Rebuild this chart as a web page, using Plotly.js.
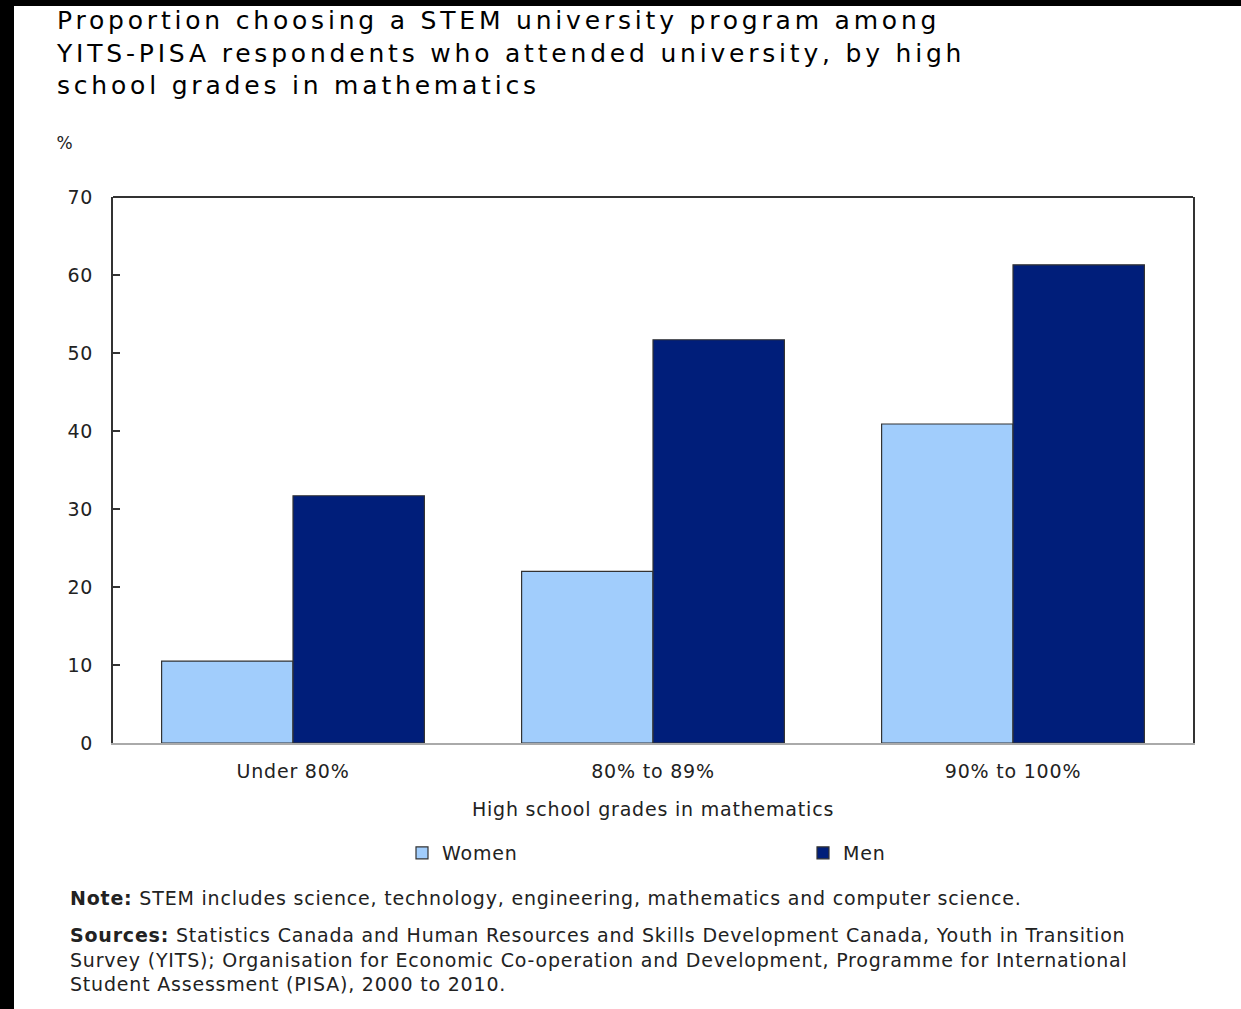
<!DOCTYPE html>
<html>
<head>
<meta charset="utf-8">
<script src="https://cdn.plot.ly/plotly-3.0.1.min.js"></script>
<style>
  html, body { margin: 0; padding: 0; background: #000; width: 1241px; height: 1009px; overflow: hidden; }
  #chart { position: absolute; left: 14px; top: 6px; width: 1227px; height: 1003px; background: #fff; }
  /* wide, airy lettering for all chart text */
  #chart svg text { letter-spacing: 0.8px; }
  #chart svg .gtitle { letter-spacing: 3.8px; }
</style>
</head>
<body>
<div id="chart"></div>
<script>
// High school maths grade bands
const categories = ['Under 80%', '80% to 89%', '90% to 100%'];
// Share choosing a STEM university program (%)
const women = [10.5, 22.0, 40.9];
const men = [31.7, 51.7, 61.3];
const yTicks = [0, 10, 20, 30, 40, 50, 60, 70];

const FONT = 'DejaVu Sans, Verdana, sans-serif';
const TXT = '#222';

const traces = [
  {
    type: 'bar', name: 'Women', x: categories, y: women,
    marker: { color: '#a1cdfc', line: { color: '#333', width: 1.2 } },
    hoverinfo: 'y+name'
  },
  {
    type: 'bar', name: 'Men', x: categories, y: men,
    marker: { color: '#001e7a', line: { color: '#333', width: 1.2 } },
    hoverinfo: 'y+name'
  }
];

const layout = {
  width: 1227, height: 1003,
  margin: { l: 99, r: 48, t: 191, b: 266 },
  paper_bgcolor: '#fff', plot_bgcolor: '#fff',
  font: { family: FONT, size: 19, color: TXT },
  barmode: 'group', bargap: 0.27, bargroupgap: 0,
  showlegend: true,
  title: {
    text: 'Proportion choosing a STEM university program among<br>YITS-PISA respondents who attended university, by high<br>school grades in mathematics',
    font: { family: FONT, size: 25, color: '#000' },
    xref: 'container', yref: 'container',
    x: 43 / 1227, xanchor: 'left',
    y: 1 - 23 / 1003, yanchor: 'top'
  },
  xaxis: {
    showgrid: false, zeroline: false,
    showline: true, linecolor: '#aaa', linewidth: 2,
    ticks: '', ticklabelstandoff: 10,
    tickfont: { family: FONT, size: 19, color: TXT },
    title: { text: 'High school grades in mathematics', font: { family: FONT, size: 19, color: TXT }, standoff: 22 }
  },
  yaxis: {
    range: [0, 70], tickvals: yTicks, ticktext: yTicks.map(String),
    showgrid: false, zeroline: false,
    showline: true, mirror: true, linecolor: '#333', linewidth: 2,
    ticks: 'inside', ticklen: 7, tickcolor: '#333', tickwidth: 1.5,
    ticklabelstandoff: 14,
    tickfont: { family: FONT, size: 19, color: TXT }
  },
  legend: {
    orientation: 'h', x: (388 - 99) / 1080, xanchor: 'left',
    y: (737 - 847) / 546, yanchor: 'middle',
    entrywidth: 356, entrywidthmode: 'pixels',
    font: { family: FONT, size: 19, color: TXT },
    bgcolor: 'rgba(0,0,0,0)', traceorder: 'normal'
  },
  shapes: [
    { type: 'line', xref: 'paper', yref: 'paper', x0: 0, x1: 1, y0: 1, y1: 1, line: { color: '#333', width: 2 } }
  ],
  annotations: [
    { text: '%', xref: 'paper', yref: 'paper', x: (51 - 99) / 1080, y: (737 - 137) / 546,
      xanchor: 'center', yanchor: 'middle', showarrow: false, font: { family: FONT, size: 17, color: TXT } },
    { text: '<b>Note:</b> STEM includes science, technology, engineering, mathematics and computer science.',
      xref: 'paper', yref: 'paper', x: (54 - 99) / 1080, y: (737 - 892) / 546,
      xanchor: 'left', yanchor: 'middle', align: 'left', showarrow: false,
      font: { family: FONT, size: 19, color: TXT } },
    { text: '<b>Sources:</b> Statistics Canada and Human Resources and Skills Development Canada, Youth in Transition<br>Survey (YITS); Organisation for Economic Co-operation and Development, Programme for International<br>Student Assessment (PISA), 2000 to 2010.',
      xref: 'paper', yref: 'paper', x: (54 - 99) / 1080, y: (737 - 916) / 546,
      xanchor: 'left', yanchor: 'top', align: 'left', showarrow: false,
      font: { family: FONT, size: 19, color: TXT } }
  ]
};

Plotly.newPlot('chart', traces, layout, { displayModeBar: false, staticPlot: true });
</script>
</body>
</html>
